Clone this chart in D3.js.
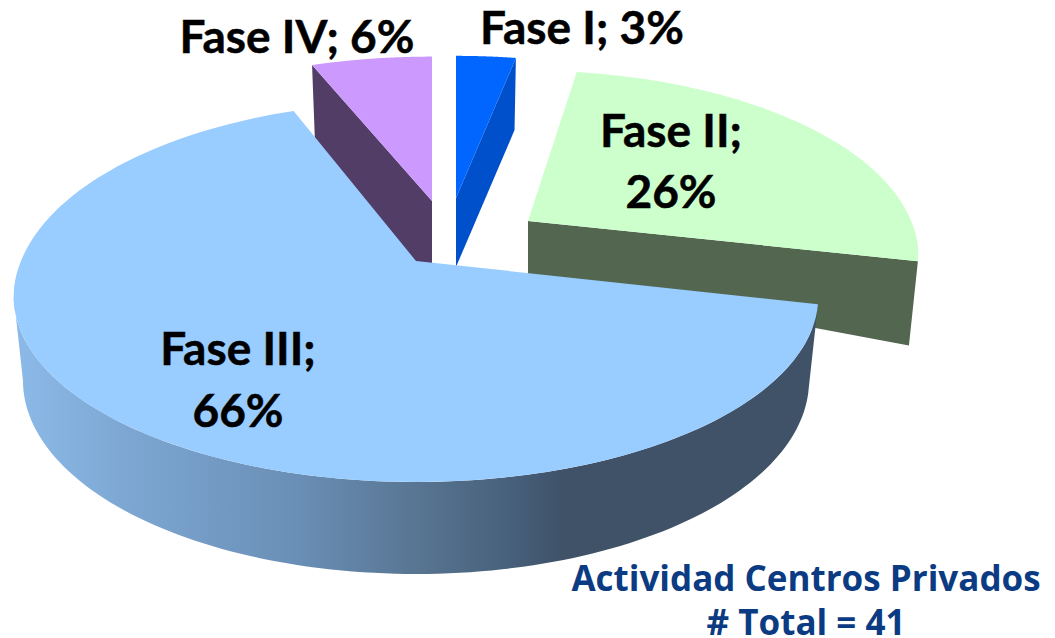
<!DOCTYPE html>
<html><head><meta charset="utf-8">
<script src="https://cdn.jsdelivr.net/npm/d3@7"></script>
<style>html,body{margin:0;padding:0;background:#fff}svg{display:block}</style>
</head><body><svg id="c" width="1055" height="638"></svg>
<script>
// Data
const categories = ["Fase I","Fase II","Fase III","Fase IV"];
const values = [3,26,66,6];
const percentLabels = ["3%","26%","66%","6%"];
const footerLines = ["Actividad Centros Privados","# Total = 41"];

// Appearance
const topColors  = ["#0066FF","#CCFFCC","#99CCFF","#CC99FF"];
const sideColors = ["#0050CC","#526650","#3F5268","#523D66"];
const explode = [
  {x:456,y:198,sx:.97, syB:.945,syF:1,apexDepth:69,startNudge:0},
  {x:528,y:221,sx:.97, syB:1,   syF:.93,apexDepth:53,startNudge:-2},
  {x:416,y:261,sx:1,   syB:1.06,syF:1,apexDepth:60,startNudge:0},
  {x:432,y:201,sx:.98,syB:.96,syF:1,apexDepth:85,startNudge:0}
];
const labelLayout = [
  {lines:["Fase I; 3%"],x:582,y:[44]},
  {lines:["Fase II;","26%"],x:671,y:[147,208]},
  {lines:["Fase III;","66%"],x:238,y:[365,427]},
  {lines:["Fase IV; 6%"],x:297,y:[53]}
];
const R=395, K=179, persp=.19, shrink=.977;

const svg=d3.select("#c");
const arcs=d3.pie().sort(null).value(d=>d)(values);
const line=d3.line();

// Perspective mapping of a rim point (angle clockwise from the back) of slice i
function rim(i,a,bottom){
  const e=explode[i], c=-Math.cos(a), w=1/(1-persp*c);
  const px=R*Math.sin(a)*w*e.sx;
  const py=K*c*w*(c<0?e.syB:e.syF);
  return bottom ? [e.x+px*shrink, e.y+py+82+10*c] : [e.x+px, e.y+py];
}
function arcPts(i,a0,a1,bottom){
  return d3.range(0,121).map(k=>rim(i,a0+(a1-a0)*k/120,bottom));
}
const apexTop=i=>[explode[i].x,explode[i].y];
const apexBot=i=>[explode[i].x,explode[i].y+explode[i].apexDepth];

// Wall shading
const grad=svg.append("defs").append("linearGradient")
  .attr("id","wall").attr("gradientUnits","userSpaceOnUse")
  .attr("x1",14).attr("x2",820).attr("y1",0).attr("y2",0);
[[0,"#8CBAE8"],[.17,"#7AA3CE"],[.35,"#6A8FB6"],[.5,"#587592"],[.62,"#475F7A"],[.68,"#3F5268"],[1,"#3F5268"]]
  .forEach(([o,c])=>grad.append("stop").attr("offset",o).attr("stop-color",c));

// Draw order: back slices first, the large slice last
[3,0,1,2].forEach(i=>{
  const a=arcs[i], g=svg.append("g");
  const s=a.startAngle+explode[i].startNudge*Math.PI/180, t=a.endAngle;
  if(i===2){
    const left=2*Math.PI-Math.acos(-persp);
    const wallTop=arcPts(i,s,left,false), wallBot=arcPts(i,s,left,true).reverse();
    g.append("path").attr("d",line(wallTop.concat(wallBot))+"Z").attr("fill","url(#wall)");
  } else {
    // visible cut face
    const edge = i===3 ? s : t;
    g.append("path").attr("fill",sideColors[i])
     .attr("d",line([rim(i,edge,false),apexTop(i),apexBot(i),rim(i,edge,true)])+"Z");
  }
  g.append("path").attr("fill",topColors[i])
   .attr("d",line([apexTop(i)].concat(arcPts(i,s,t,false)))+"Z");
});

// Slice labels
labelLayout.forEach((l,i)=>{
  l.lines.forEach((txt,j)=>{
    svg.append("text").attr("x",l.x).attr("y",l.y[j]).attr("text-anchor","middle")
      .attr("font-family","Lato, 'Open Sans', sans-serif").attr("font-weight",700)
      .attr("font-size",46).attr("fill","#000").attr("stroke","#000").attr("stroke-width",.5).text(txt);
  });
});

// Footer
footerLines.forEach((t,j)=>{
  svg.append("text").attr("x",806).attr("y",[591,635][j]).attr("text-anchor","middle")
    .attr("font-family","'Open Sans', sans-serif").attr("font-weight",700)
    .attr("font-size",35).attr("fill","#0B3B82").text(t);
});
</script></body></html>
